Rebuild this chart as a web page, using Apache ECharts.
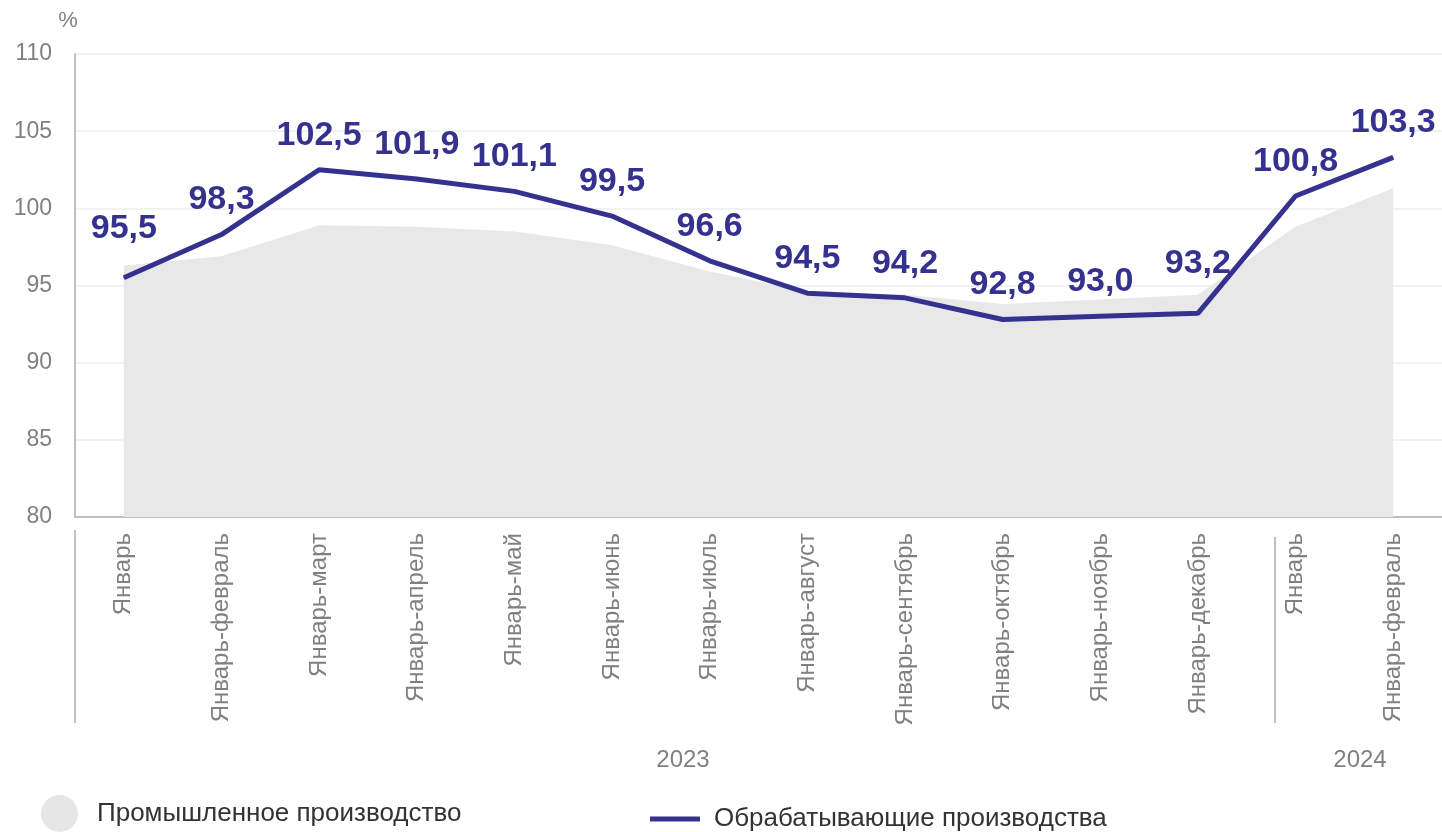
<!DOCTYPE html>
<html>
<head>
<meta charset="utf-8">
<script src="https://cdn.jsdelivr.net/npm/echarts@6/dist/echarts.min.js"></script>
<style>
html,body{margin:0;padding:0;background:#fff;}
#chart{width:1442px;height:832px;}
</style>
</head>
<body>
<div id="chart"></div>
<script>
const categories = ['Январь','Январь-февраль','Январь-март','Январь-апрель','Январь-май','Январь-июнь','Январь-июль','Январь-август','Январь-сентябрь','Январь-октябрь','Январь-ноябрь','Январь-декабрь','Январь','Январь-февраль'];
const manufacturing = [95.5, 98.3, 102.5, 101.9, 101.1, 99.5, 96.6, 94.5, 94.2, 92.8, 93.0, 93.2, 100.8, 103.3];
const industrial = [96.3, 96.9, 98.9, 98.8, 98.5, 97.6, 95.9, 94.6, 94.4, 93.8, 94.1, 94.4, 98.8, 101.3];
const yTicks = [80, 85, 90, 95, 100, 105, 110];
const years = ['2023', '2024'];
const seriesNames = ['Промышленное производство', 'Обрабатывающие производства'];
const raisedLabels = [0, 11];

const FONT = '"Liberation Sans", Arial, sans-serif';
const LINE_COLOR = '#35318f';
const AREA_COLOR = '#e8e8e8';
const GRAY = '#808080';

const chart = echarts.init(document.getElementById('chart'), null, {renderer: 'canvas'});

const lineData = manufacturing.map((v, i) => raisedLabels.includes(i)
  ? {value: v, label: {distance: 32}}
  : v);

chart.setOption({
  animation: false,
  backgroundColor: '#fff',
  textStyle: {fontFamily: FONT},
  grid: {left: 75, top: 54, height: 463, width: 1378, containLabel: false},
  xAxis: {
    type: 'category',
    data: categories,
    boundaryGap: true,
    axisLine: {show: true, lineStyle: {color: '#c0c0c0', width: 2}},
    axisTick: {show: false},
    axisLabel: {
      rotate: 90, interval: 0, margin: 16,
      color: GRAY, fontSize: 24, fontFamily: FONT
    },
    splitLine: {show: false}
  },
  yAxis: {
    type: 'value',
    min: yTicks[0], max: yTicks[yTicks.length - 1], interval: 5,
    name: '%',
    nameLocation: 'end',
    nameGap: 22,
    nameTextStyle: {color: GRAY, fontSize: 22, fontFamily: FONT, align: 'center', padding: [0, 14, 0, 0]},
    axisLine: {show: true, lineStyle: {color: '#c0c0c0', width: 2}},
    axisTick: {show: false},
    axisLabel: {color: GRAY, fontSize: 23, margin: 23, fontFamily: FONT},
    splitLine: {show: true, lineStyle: {color: '#eeeeee', width: 1.5}}
  },
  legend: [
    {
      data: [{name: seriesNames[0], icon: 'circle', itemStyle: {color: '#e6e6e6'}}],
      left: 41, top: 795, padding: 0,
      itemWidth: 37, itemHeight: 37,
      textStyle: {fontSize: 26, color: '#333333', fontFamily: FONT, padding: [2, 0, 0, 14]},
      selectedMode: false
    },
    {
      data: [{name: seriesNames[1], icon: 'rect', itemStyle: {color: LINE_COLOR}}],
      left: 650, top: 806, padding: 0,
      itemWidth: 50, itemHeight: 5,
      textStyle: {fontSize: 26, color: '#333333', fontFamily: FONT, padding: [3, 0, 0, 9]},
      selectedMode: false
    }
  ],
  graphic: [
    {type: 'line', shape: {x1: 75, y1: 530, x2: 75, y2: 723}, style: {stroke: '#c0c0c0', lineWidth: 2}},
    {type: 'line', shape: {x1: 1275, y1: 537, x2: 1275, y2: 723}, style: {stroke: '#c0c0c0', lineWidth: 2}},
    {type: 'text', x: 683, y: 760, style: {text: years[0], fill: GRAY, font: '24px ' + FONT, textAlign: 'center', textVerticalAlign: 'middle'}},
    {type: 'text', x: 1360, y: 760, style: {text: years[1], fill: GRAY, font: '24px ' + FONT, textAlign: 'center', textVerticalAlign: 'middle'}}
  ],
  series: [
    {
      name: seriesNames[0],
      type: 'line',
      data: industrial,
      symbol: 'none',
      lineStyle: {width: 0, color: AREA_COLOR},
      itemStyle: {color: '#e6e6e6'},
      areaStyle: {color: AREA_COLOR, opacity: 1},
      silent: true,
      z: 1
    },
    {
      name: seriesNames[1],
      type: 'line',
      data: lineData,
      symbol: 'circle',
      symbolSize: 1,
      itemStyle: {color: LINE_COLOR},
      lineStyle: {width: 5, color: LINE_COLOR},
      label: {
        show: true, position: 'top', distance: 17,
        color: LINE_COLOR, fontSize: 34, fontWeight: 'bold', fontFamily: FONT,
        formatter: p => p.value.toFixed(1).replace('.', ',')
      },
      z: 3
    }
  ]
});
</script>
</body>
</html>
